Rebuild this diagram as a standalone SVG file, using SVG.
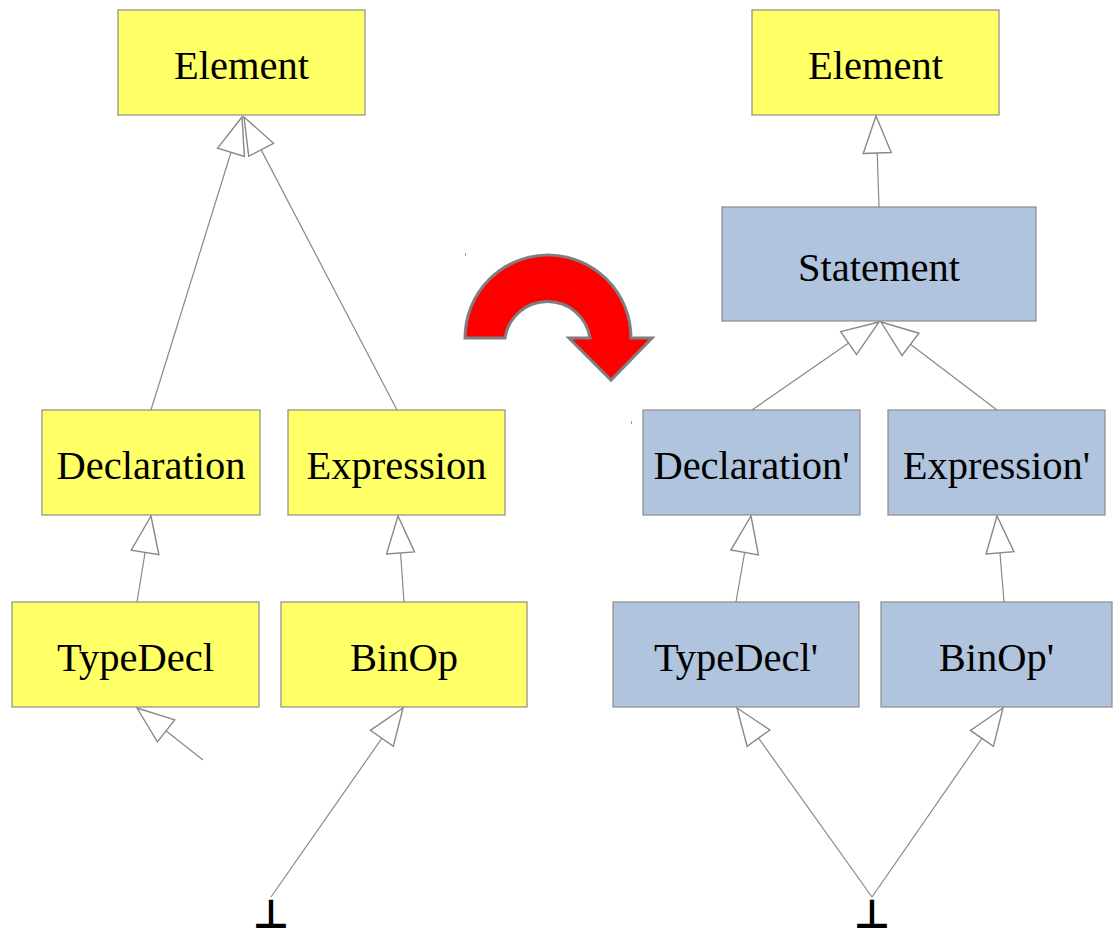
<svg xmlns="http://www.w3.org/2000/svg" width="1113" height="938" viewBox="0 0 1113 938">
  <style>
    .box rect { stroke: #8c8c8c; stroke-width: 1.2; }
    .old rect { fill: #ffff66; }
    .new rect { fill: #b0c4de; }
    .box text { font-family: "Liberation Serif", "Times New Roman", serif; font-size: 40.5px; fill: #000; text-anchor: middle; }
    .edge { stroke: #888; stroke-width: 1.2; fill: none; marker-end: url(#hollow); }
    .bottom { font-family: "DejaVu Sans", sans-serif; font-size: 40px; font-weight: bold; text-anchor: middle; fill: #000; }
  </style>
  <defs>
    <!-- hollow generalization arrowhead -->
    <marker id="hollow" markerUnits="userSpaceOnUse" markerWidth="40" markerHeight="32" refX="37" refY="14" orient="auto" overflow="visible">
      <path d="M37,14 L0,0 L0,28 Z" fill="#fff" stroke="#888" stroke-width="1.4" stroke-linejoin="miter"/>
    </marker>
  </defs>

  <!-- left hierarchy -->
  <g id="element-left" class="box old"><rect x="118" y="10" width="247" height="105"/><text x="241.5" y="79">Element</text></g>
  <g id="declaration" class="box old"><rect x="42" y="410" width="218" height="105"/><text x="151" y="479">Declaration</text></g>
  <g id="expression" class="box old"><rect x="288" y="410" width="217" height="105"/><text x="396.5" y="479">Expression</text></g>
  <g id="typedecl" class="box old"><rect x="12" y="602" width="247" height="105"/><text x="135.5" y="671">TypeDecl</text></g>
  <g id="binop" class="box old"><rect x="281" y="602" width="246" height="105"/><text x="404" y="671">BinOp</text></g>

  <!-- right hierarchy -->
  <g id="element-right" class="box old"><rect x="752" y="10" width="247" height="105"/><text x="875.5" y="79">Element</text></g>
  <g id="statement" class="box new"><rect x="722" y="207" width="314" height="114"/><text x="879" y="281">Statement</text></g>
  <g id="declaration-prime" class="box new"><rect x="643" y="410" width="217" height="105"/><text x="751.5" y="479">Declaration'</text></g>
  <g id="expression-prime" class="box new"><rect x="888" y="410" width="217" height="105"/><text x="996.5" y="479">Expression'</text></g>
  <g id="typedecl-prime" class="box new"><rect x="613" y="602" width="246" height="105"/><text x="736" y="671">TypeDecl'</text></g>
  <g id="binop-prime" class="box new"><rect x="881" y="602" width="231" height="105"/><text x="996.5" y="671">BinOp'</text></g>

  <!-- bottom elements -->
  <g id="bottom-left"><text class="bottom" x="271" y="928">⊥</text></g>
  <g id="bottom-right"><text class="bottom" x="872" y="928">⊥</text></g>

  <!-- transformation arrow -->
  <g id="transform-arrow">
    <path d="M465,338 A83,83 0 0 1 631,338 L652,338 L611,380 L569,338 L590,338 A43,43 0 0 0 505,338 Z" fill="#ff0000" stroke="#7f7f7f" stroke-width="3" stroke-linejoin="miter"/>
  </g>

  <!-- generalization connectors -->
  <g id="connectors">
    <line class="edge" x1="151" y1="410" x2="242" y2="117"/>
    <line class="edge" x1="397" y1="410" x2="244" y2="117"/>
    <line class="edge" x1="137" y1="602" x2="151" y2="516"/>
    <line class="edge" x1="404" y1="602" x2="398" y2="516"/>
    <line class="edge" x1="203" y1="760" x2="137" y2="708"/>
    <line class="edge" x1="271" y1="897" x2="403" y2="708"/>

    <line class="edge" x1="879" y1="207" x2="876" y2="116"/>
    <line class="edge" x1="752" y1="410" x2="879" y2="322"/>
    <line class="edge" x1="997" y1="410" x2="881" y2="322"/>
    <line class="edge" x1="736" y1="602" x2="751" y2="516"/>
    <line class="edge" x1="1004" y1="602" x2="997" y2="516"/>
    <line class="edge" x1="872" y1="897" x2="737" y2="708"/>
    <line class="edge" x1="872" y1="897" x2="1003" y2="708"/>
  </g>

  <!-- stray ticks -->
  <line x1="465.5" y1="253" x2="465.5" y2="256" stroke="#999" stroke-width="1"/>
  <line x1="631.5" y1="421" x2="631.5" y2="424" stroke="#999" stroke-width="1"/>
</svg>
